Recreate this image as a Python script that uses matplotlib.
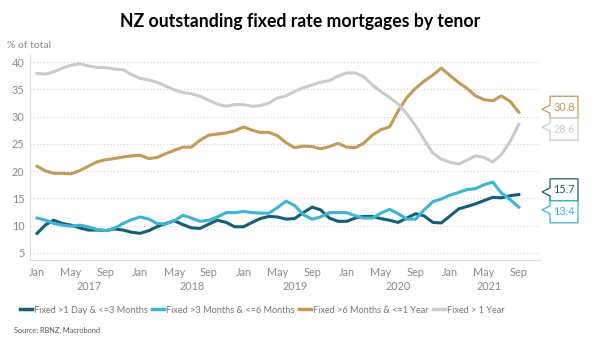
import pandas as pd
import matplotlib
matplotlib.use("Agg")
import matplotlib.pyplot as plt
import matplotlib.dates as mdates
import matplotlib.transforms as mtransforms
from matplotlib.patches import Polygon

# Meses: enero 2017 a septiembre 2021
meses = pd.date_range("2017-01-01", "2021-09-01", freq="MS")

# Porcentaje del total por plazo
fijo_1d_3m = [8.6, 10.2, 11.0, 10.4, 10.1, 9.6, 9.2, 9.2, 9.1, 9.4, 9.2, 8.8,
              8.6, 9.1, 9.8, 10.4, 10.9, 10.2, 9.6, 9.5, 10.3, 11.0, 10.6, 9.8,
              9.8, 10.6, 11.3, 11.7, 11.6, 11.2, 11.3, 12.4, 13.4, 12.9, 11.4, 10.8,
              10.8, 11.4, 11.7, 11.7, 11.3, 11.0, 10.6, 11.4, 12.2, 11.8, 10.6, 10.5,
              11.8, 13.1, 13.5, 14.0, 14.6, 15.2, 15.1, 15.5, 15.7]
fijo_3m_6m = [11.4, 11.0, 10.4, 10.1, 9.9, 10.1, 9.8, 9.3, 9.1, 9.5, 10.4, 11.1,
              11.6, 11.2, 10.4, 10.3, 10.9, 11.9, 11.4, 10.8, 11.0, 11.6, 12.4, 12.4,
              12.6, 12.4, 12.3, 12.3, 13.3, 14.5, 13.7, 12.0, 11.2, 11.6, 12.4, 12.4,
              12.4, 11.8, 11.4, 11.4, 12.3, 13.0, 12.2, 11.2, 11.2, 12.9, 14.4, 14.9,
              15.6, 16.1, 16.6, 16.8, 17.5, 18.0, 16.0, 14.8, 13.4]
fijo_6m_1a = [20.9, 20.0, 19.6, 19.6, 19.5, 20.1, 20.9, 21.7, 22.1, 22.3, 22.6, 22.8,
              22.9, 22.3, 22.5, 23.2, 23.8, 24.4, 24.4, 25.7, 26.6, 26.8, 27.0, 27.4,
              28.1, 27.5, 27.1, 27.1, 26.5, 25.2, 24.3, 24.6, 24.5, 24.1, 24.5, 25.1,
              24.4, 24.3, 25.1, 26.6, 27.6, 28.1, 31.0, 33.5, 35.2, 36.5, 37.6, 38.9,
              37.5, 36.2, 35.2, 33.8, 33.1, 32.9, 33.8, 32.8, 30.8]
fijo_mas_1a = [37.9, 37.8, 38.2, 38.9, 39.4, 39.7, 39.3, 39.0, 39.0, 38.7, 38.6, 37.7,
               37.0, 36.7, 36.3, 35.6, 34.9, 34.4, 34.2, 33.7, 33.0, 32.3, 31.9, 32.2,
               32.2, 31.9, 32.0, 32.5, 33.4, 33.8, 34.6, 35.3, 35.8, 36.3, 36.6, 37.4,
               38.0, 38.0, 37.3, 35.8, 34.6, 33.5, 32.3, 30.5, 28.3, 25.8, 23.3, 22.2,
               21.6, 21.3, 22.0, 22.8, 22.5, 21.7, 23.0, 25.4, 28.6]

series = [fijo_1d_3m, fijo_3m_6m, fijo_6m_1a, fijo_mas_1a]
nombres = ["Fixed >1 Day & <=3 Months", "Fixed >3 Months & <=6 Months",
           "Fixed >6 Months & <=1 Year", "Fixed > 1 Year"]
colores = ["#135e78", "#3bb5d6", "#c49a55", "#c8ccd1"]
anios = [2017, 2018, 2019, 2020, 2021]

plt.rcParams["font.family"] = ["Lato", "DejaVu Sans"]
gris_texto = "#8a8a8a"

fig = plt.figure(figsize=(6, 3.5), dpi=100)
ax = fig.add_axes([0.05, 0.257, 0.85, 0.586])

for serie, nombre, color in zip(series, nombres, colores):
    ax.plot(meses, serie, color=color, lw=2.2, label=nombre)

# Ejes y rejilla
ax.set_ylim(3.7, 41.3)
ax.set_yticks(range(5, 41, 5))
ax.set_xlim(pd.Timestamp("2016-12-07"), pd.Timestamp("2021-11-15"))
ax.grid(axis="y", linestyle=(0, (1, 2)), color="#cfcfcf", lw=0.8)
ax.set_axisbelow(True)
for lado in ["top", "right"]:
    ax.spines[lado].set_visible(False)
for lado in ["left", "bottom"]:
    ax.spines[lado].set_color("#dcdcdc")
ax.tick_params(length=0, labelcolor=gris_texto, labelsize=7.8)
ax.tick_params(axis="y", pad=4)
ax.tick_params(axis="x", pad=5)
ax.xaxis.set_major_locator(mdates.MonthLocator(bymonth=[1, 5, 9]))
ax.xaxis.set_major_formatter(mdates.DateFormatter("%b"))

# Anios debajo de los meses
trans_x = mtransforms.blended_transform_factory(ax.transData, ax.transAxes)
for anio in anios:
    inicio = pd.Timestamp(f"{anio}-01-01")
    fin = min(pd.Timestamp(f"{anio + 1}-01-01"), meses[-1] + pd.offsets.MonthBegin(1))
    ax.text(inicio + (fin - inicio) / 2, -0.127, str(anio), transform=trans_x,
            ha="center", va="center", fontsize=7.8, color=gris_texto)

fig.text(0.012, 0.87, "% of total", fontsize=7.5, color=gris_texto, va="center")
fig.text(0.5, 0.94, "NZ outstanding fixed rate mortgages by tenor",
         ha="center", va="center", fontsize=12.7, fontweight="bold")

# Etiquetas con el ultimo valor (tipo globo a la derecha)
fig.canvas.draw()
alto = 22
ultimos = [(s[-1], c) for s, c in zip(series, colores)]
ys = [ax.transData.transform((0, v))[1] for v, c in ultimos]
orden = sorted(range(len(ys)), key=lambda i: ys[i])
centros = list(ys)
for a, b in zip(orden[:-1], orden[1:]):
    if centros[b] - centros[a] < alto:
        medio = (centros[a] + centros[b]) / 2
        centros[a] = medio - alto / 2
        centros[b] = medio + alto / 2

x_punta = ax.transAxes.transform((1, 0))[0] + 2
x0 = x_punta + 8
x1 = x0 + 28
for (valor, color), y_val, yc in zip(ultimos, ys, centros):
    y_punta = yc + max(-2, min(2, y_val - yc))
    puntos = [(x0, yc + alto / 2), (x1, yc + alto / 2), (x1, yc - alto / 2),
              (x0, yc - alto / 2), (x0, y_punta - 4), (x_punta, y_punta),
              (x0, y_punta + 4)]
    globo = Polygon(puntos, closed=True, transform=None, facecolor="white",
                    edgecolor=color, lw=0.9)
    fig.patches.append(globo)
    fig.text((x0 + x1) / 2 / fig.bbox.width, yc / fig.bbox.height, f"{valor:.1f}",
             ha="center", va="center", fontsize=7.8, color=color)

# Leyenda abajo
fig.legend(loc="center left", bbox_to_anchor=(0.027, 0.114), ncol=4, frameon=False,
           fontsize=6.6, labelcolor="#777777", handlelength=1.3, handletextpad=0.25,
           columnspacing=0.45, borderaxespad=0)
for linea in fig.legends[0].get_lines():
    linea.set_linewidth(2.5)

fig.text(0.024, 0.057, "Source: RBNZ, Macrobond", fontsize=5.3, color="#555555",
         va="center")

plt.savefig("out.png", dpi=100)
plt.close()
